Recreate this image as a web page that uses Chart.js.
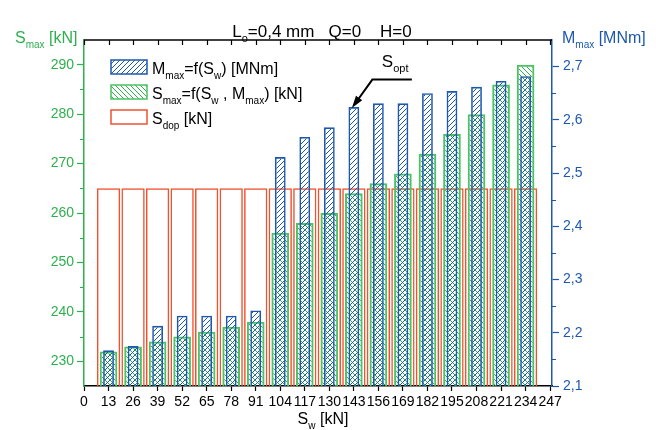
<!DOCTYPE html>
<html>
<head>
<meta charset="utf-8">
<script src="https://cdn.jsdelivr.net/npm/chart.js@4.4.1/dist/chart.umd.min.js"></script>
<style>
  html, body { margin: 0; padding: 0; background: #fff; }
</style>
</head>
<body>
<canvas id="myChart" width="656" height="430"></canvas>
<script>
// S_w [kN] positions of the bars
const swValues = [13, 26, 39, 52, 65, 78, 91, 104, 117, 130, 143, 156, 169, 182, 195, 208, 221, 234];
// M_max = f(S_w) [MNm]  (right axis)
const mMax = [2.167, 2.175, 2.213, 2.232, 2.232, 2.232, 2.242, 2.530, 2.568, 2.586, 2.624, 2.631, 2.631, 2.650, 2.654, 2.662, 2.673, 2.682];
// S_max = f(S_w, M_max) [kN]  (left axis)
const sMax = [232, 233, 234, 235, 236, 237, 238, 256, 258, 260, 264, 266, 268, 272, 276, 280, 286, 290];
// S_dop [kN]
const sDop = [265, 265, 265, 265, 265, 265, 265, 265, 265, 265, 265, 265, 265, 265, 265, 265, 265, 265];
const optIndex = 10; // S_opt at S_w = 143

const xTicks = [0, 13, 26, 39, 52, 65, 78, 91, 104, 117, 130, 143, 156, 169, 182, 195, 208, 221, 234, 247];
const leftTicks = [230, 240, 250, 260, 270, 280, 290];
const rightTicks = [2.1, 2.2, 2.3, 2.4, 2.5, 2.6, 2.7];

const GREEN = '#2fb04e';
const GREEN_EDGE = '#4cc265';
const BLUE = '#1d58ad';
const RED = '#f0522f';
const FONT = '"Liberation Sans", Arial, sans-serif';

const canvas = document.getElementById('myChart');
const ctx = canvas.getContext('2d');

function hatch(color, rising) {
    const s = 5;
    const c = document.createElement('canvas');
    c.width = s; c.height = s;
    const g = c.getContext('2d');
    g.strokeStyle = color;
    g.lineWidth = 1;
    g.beginPath();
    if (rising) {
        g.moveTo(0, s); g.lineTo(s, 0);
        g.moveTo(-1, 1); g.lineTo(1, -1);
        g.moveTo(s - 1, s + 1); g.lineTo(s + 1, s - 1);
    } else {
        g.moveTo(0, 0); g.lineTo(s, s);
        g.moveTo(-1, s - 1); g.lineTo(1, s + 1);
        g.moveTo(s - 1, -1); g.lineTo(s + 1, 1);
    }
    g.stroke();
    return ctx.createPattern(c, 'repeat');
}

const blueHatch = hatch(BLUE, true);
const greenHatch = hatch(GREEN, false);

// draws text with subscript parts: [[text, isSub], ...]
function richText(c, x, y, parts, size, color) {
    c.fillStyle = color;
    c.textAlign = 'left';
    c.textBaseline = 'alphabetic';
    for (const [t, sub] of parts) {
        const fs = sub ? Math.round(size * 0.64) : size;
        c.font = fs + 'px ' + FONT;
        c.fillText(t, x, sub ? y + size * 0.3 : y);
        x += c.measureText(t).width;
    }
    return x;
}

function richWidth(c, parts, size) {
    let w = 0;
    for (const [t, sub] of parts) {
        c.font = (sub ? Math.round(size * 0.64) : size) + 'px ' + FONT;
        w += c.measureText(t).width;
    }
    return w;
}

const extras = {
    id: 'extras',
    afterDraw(chart) {
        const c = chart.ctx;
        const area = chart.chartArea;
        const xs = chart.scales.x, yl = chart.scales.y, yr = chart.scales.y1;
        c.save();

        // top frame line and inward ticks
        c.strokeStyle = '#000';
        c.lineWidth = 1.5;
        c.beginPath();
        c.moveTo(area.left, area.top);
        c.lineTo(area.right, area.top);
        c.stroke();
        c.lineWidth = 1.2;
        c.beginPath();
        for (const v of xTicks) {
            const px = Math.round(xs.getPixelForValue(v)) + 0.5;
            c.moveTo(px, area.top);
            c.lineTo(px, area.top + 5);
        }
        c.stroke();

        // minor ticks
        c.strokeStyle = GREEN;
        c.beginPath();
        for (let i = 0; i < leftTicks.length - 1; i++) {
            const py = Math.round(yl.getPixelForValue((leftTicks[i] + leftTicks[i + 1]) / 2)) + 0.5;
            c.moveTo(area.left - 4, py);
            c.lineTo(area.left, py);
        }
        c.stroke();
        c.strokeStyle = BLUE;
        c.beginPath();
        for (let i = 0; i < rightTicks.length - 1; i++) {
            const py = Math.round(yr.getPixelForValue((rightTicks[i] + rightTicks[i + 1]) / 2)) + 0.5;
            c.moveTo(area.right, py);
            c.lineTo(area.right + 4, py);
        }
        c.stroke();

        // title
        const title = [['L', false], ['o', true], ['=0,4 mm   Q=0    H=0', false]];
        const tw = richWidth(c, title, 17);
        richText(c, (area.left + area.right) / 2 + 4 - tw / 2, 37, title, 17, '#000');

        // axis titles
        richText(c, 15, 43, [['S', false], ['max', true], [' [kN]', false]], 16, GREEN);
        richText(c, 562, 43, [['M', false], ['max', true], [' [MNm]', false]], 16, BLUE);
        const xt = [['S', false], ['w', true], [' [kN]', false]];
        richText(c, (area.left + area.right) / 2 - richWidth(c, xt, 16) / 2 + 5, 424, xt, 16, '#000');

        // legend
        const lx = area.left + 27, ly = area.top + 20;
        const rows = [
            { fill: blueHatch, edge: BLUE, parts: [['M', false], ['max', true], ['=f(S', false], ['w', true], [') [MNm]', false]] },
            { fill: greenHatch, edge: GREEN_EDGE, parts: [['S', false], ['max', true], ['=f(S', false], ['w', true], [' , M', false], ['max', true], [') [kN]', false]] },
            { fill: '#fff', edge: RED, parts: [['S', false], ['dop', true], [' [kN]', false]] }
        ];
        rows.forEach((r, i) => {
            const by = ly + i * 25;
            c.fillStyle = r.fill;
            c.fillRect(lx, by, 36, 14);
            c.strokeStyle = r.edge;
            c.lineWidth = 1.5;
            c.strokeRect(lx, by, 36, 14);
            richText(c, lx + 41, by + 14, r.parts, 16, '#000');
        });

        // S_opt arrow
        const tipX = xs.getPixelForValue(swValues[optIndex]) - 2;
        const tipY = yr.getPixelForValue(mMax[optIndex]) + 1;
        const kneeX = tipX + 20.5, kneeY = tipY - 28.5;
        c.strokeStyle = '#000';
        c.lineWidth = 2;
        c.beginPath();
        c.moveTo(kneeX + 39.5, kneeY);
        c.lineTo(kneeX, kneeY);
        c.lineTo(tipX + 6, tipY - 8.3);
        c.stroke();
        const ang = Math.atan2(tipY - kneeY, tipX - kneeX);
        c.fillStyle = '#000';
        c.beginPath();
        c.moveTo(tipX, tipY);
        c.lineTo(tipX - 13 * Math.cos(ang - 0.3), tipY - 13 * Math.sin(ang - 0.3));
        c.lineTo(tipX - 13 * Math.cos(ang + 0.3), tipY - 13 * Math.sin(ang + 0.3));
        c.closePath();
        c.fill();
        richText(c, kneeX + 9.5, kneeY - 13, [['S', false], ['opt', true]], 17, '#000');

        c.restore();
    }
};

const myChart = new Chart(ctx, {
    type: 'bar',
    data: {
        datasets: [
            {
                label: 'M_max',
                data: swValues.map((x, i) => ({ x: x, y: mMax[i] })),
                yAxisID: 'y1',
                backgroundColor: blueHatch,
                borderColor: BLUE,
                borderWidth: 1.6,
                borderSkipped: false,
                barPercentage: 0.44,
                order: 1
            },
            {
                label: 'S_max',
                data: swValues.map((x, i) => ({ x: x, y: sMax[i] })),
                yAxisID: 'y',
                backgroundColor: greenHatch,
                borderColor: GREEN_EDGE,
                borderWidth: 2,
                borderSkipped: false,
                barPercentage: 0.72,
                order: 2
            },
            {
                label: 'S_dop',
                data: swValues.map((x, i) => ({ x: x, y: sDop[i] })),
                yAxisID: 'y',
                backgroundColor: 'rgba(0,0,0,0)',
                borderColor: RED,
                borderWidth: 1.5,
                borderSkipped: false,
                barPercentage: 0.95,
                order: 3
            }
        ]
    },
    options: {
        responsive: false,
        animation: false,
        datasets: { bar: { grouped: false, categoryPercentage: 1 } },
        layout: { padding: { top: 40, left: 0, right: 0, bottom: 0 } },
        plugins: { legend: { display: false }, tooltip: { enabled: false }, title: { display: false } },
        scales: {
            x: {
                type: 'linear',
                position: 'bottom',
                offset: false,
                min: 0,
                max: 248,
                afterBuildTicks: a => { a.ticks = xTicks.map(v => ({ value: v })); },
                afterFit: a => { a.height = 44; },
                ticks: { autoSkip: false, maxRotation: 0, minRotation: 0, color: '#000', padding: 3, font: { size: 14, family: FONT } },
                grid: { offset: false, drawOnChartArea: false, tickLength: 5, tickColor: '#000', tickWidth: 1.2 },
                border: { color: '#000', width: 1.5 }
            },
            y: {
                position: 'left',
                min: 225,
                max: 295,
                afterBuildTicks: a => { a.ticks = leftTicks.map(v => ({ value: v })); },
                afterFit: a => { a.width = 84; },
                ticks: { color: GREEN, padding: 3, font: { size: 14, family: FONT }, callback: v => String(v) },
                grid: { drawOnChartArea: false, tickLength: 7, tickColor: GREEN, tickWidth: 1.2 },
                border: { color: GREEN, width: 1.5 }
            },
            y1: {
                position: 'right',
                min: 2.1,
                max: 2.75,
                afterBuildTicks: a => { a.ticks = rightTicks.map(v => ({ value: v })); },
                afterFit: a => { a.width = 104; },
                ticks: { color: BLUE, padding: 4, font: { size: 14, family: FONT }, callback: v => v.toFixed(1).replace('.', ',') },
                grid: { drawOnChartArea: false, tickLength: 7, tickColor: BLUE, tickWidth: 1.2 },
                border: { color: BLUE, width: 1.5 }
            }
        }
    },
    plugins: [extras]
});
</script>
</body>
</html>
